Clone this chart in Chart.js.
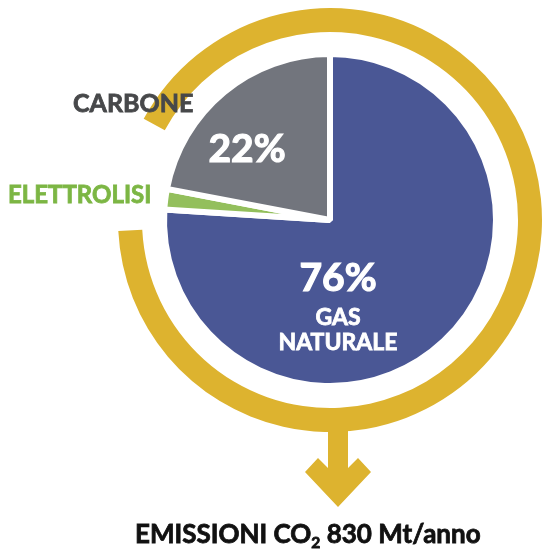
<!DOCTYPE html>
<html>
<head>
<meta charset="utf-8">
<script src="https://cdn.jsdelivr.net/npm/chart.js@4/dist/chart.umd.min.js"></script>
<style>
	body { margin: 0; background: #fff; }
	#wrap { position: relative; width: 544px; height: 552px; font-family: Lato, "Open Sans", sans-serif; font-weight: 700; }
	#wrap canvas { position: absolute; left: 0; top: 0; }
	.lbl { position: absolute; white-space: nowrap; line-height: 1; -webkit-text-stroke: 0.8px currentColor; }
	.in { color: #fff; text-align: center; }
	sub { font-size: 60%; vertical-align: -0.35em; line-height: 0; }
</style>
</head>
<body>
<div id="wrap">
	<canvas id="chartCanvas" width="544" height="552"></canvas>
</div>
<script>
// dati
const categories = ['GAS NATURALE', 'ELETTROLISI', 'CARBONE'];
const shares = [76, 2, 22];
const sliceColors = ['#4a5795', '#93bf5c', '#72757d'];
const ringColor = '#ddb32f';
const ringStart = 298.5;     // gradi, inizio anello (in alto a sinistra)
const ringSweep = 328.5;     // gradi coperti dall'anello
const emissions = 830;       // Mt/anno

// posizioni delle etichette (solo layout)
const labelBoxes = [
	{ id: 'gas', left: 263, top: 257, width: 150, html: `<div style="font-size:39px;-webkit-text-stroke:1.2px #fff">${shares[0]}%</div><div style="font-size:23px;margin-top:8px;line-height:1.08">GAS<br>NATURALE</div>`, cls: 'in' },
	{ id: 'carb', left: 202, top: 128, width: 90, html: `<div style="font-size:39px;-webkit-text-stroke:1.2px #fff">${shares[2]}%</div>`, cls: 'in' },
	{ id: 'carbName', left: 73, top: 90, html: categories[2], style: 'font-size:25px;color:#47484a' },
	{ id: 'eleName', left: 8, top: 182, html: categories[1], style: 'font-size:24px;color:#7cb644' },
	{ id: 'title', left: 135, top: 520, html: `EMISSIONI CO<sub>2</sub> ${emissions} Mt/anno`, style: 'font-size:26px;color:#111' }
];

const wrap = document.getElementById('wrap');
labelBoxes.forEach(b => {
	const d = document.createElement('div');
	d.className = 'lbl ' + (b.cls || '');
	d.style.cssText = `left:${b.left}px;top:${b.top}px;` + (b.width ? `width:${b.width}px;` : '') + (b.style || '');
	d.innerHTML = b.html;
	wrap.appendChild(d);
});

// freccia sotto l'anello
const arrowPlugin = {
	id: 'arrow',
	afterDatasetsDraw(chart) {
		const arc = chart.getDatasetMeta(0).data[0];
		if (!arc) return;
		const ctx = chart.ctx;
		const x = arc.x + 8;
		const y = arc.y + arc.outerRadius;
		ctx.save();
		ctx.fillStyle = ringColor;
		ctx.beginPath();
		ctx.moveTo(x - 10, y - 8);
		ctx.lineTo(x - 10, y + 36);
		ctx.lineTo(x - 20, y + 26);
		ctx.lineTo(x - 33, y + 40);
		ctx.lineTo(x, y + 75);
		ctx.lineTo(x + 33, y + 40);
		ctx.lineTo(x + 20, y + 26);
		ctx.lineTo(x + 10, y + 36);
		ctx.lineTo(x + 10, y - 8);
		ctx.closePath();
		ctx.fill();
		ctx.restore();
	}
};

const ctx = document.getElementById('chartCanvas').getContext('2d');
const chart = new Chart(ctx, {
	type: 'doughnut',
	data: {
		labels: categories,
		datasets: [
			{ data: [1], backgroundColor: [ringColor], borderWidth: 0, hoverBorderWidth: 0, weight: 24, rotation: ringStart, circumference: ringSweep },
			{ data: [1], backgroundColor: ['rgba(0,0,0,0)'], borderWidth: 0, hoverBorderWidth: 0, weight: 22 },
			{ data: shares, backgroundColor: sliceColors, borderColor: '#fff', borderWidth: 6, hoverBorderWidth: 6, weight: 166 }
		]
	},
	options: {
		responsive: false,
		devicePixelRatio: 1,
		animation: false,
		events: [],
		cutout: 0,
		layout: { padding: { left: 118, right: 2, top: 8, bottom: 120 } },
		plugins: { legend: { display: false }, tooltip: { enabled: false } }
	},
	plugins: [arrowPlugin]
});
</script>
</body>
</html>
